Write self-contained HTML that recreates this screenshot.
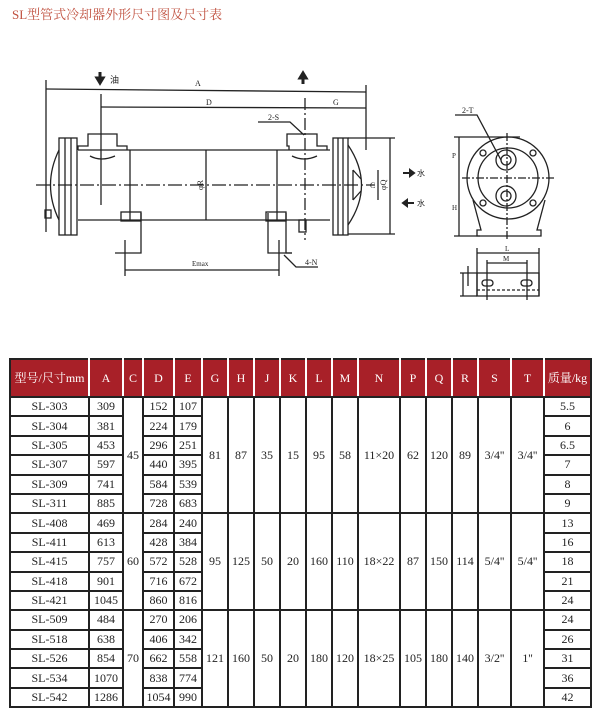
<!DOCTYPE html>
<html><head><meta charset="utf-8"><style>
body{margin:0;background:#fff;width:600px;height:721px;position:relative;overflow:hidden;font-family:"Liberation Serif","Noto Serif CJK SC",serif}
.t{position:absolute;left:12px;top:4px;color:#c0503f;font-size:13px}
svg{position:absolute;left:0;top:0}
table{position:absolute;left:9px;top:358px;border-collapse:collapse;table-layout:fixed;width:581px}
td,th{border:2px solid #222;padding:0;text-align:center;font-size:12px;color:#222;height:17.4px;line-height:15px;font-weight:normal}
th{background:#a82028;color:#fff;height:36px;border-color:#222 #fff;font-size:12px}
th:first-child{border-left-color:#222}th:last-child{border-right-color:#222}
</style></head><body>
<div class="t">SL型管式冷却器外形尺寸图及尺寸表</div>
<svg width="600" height="350" font-family="Liberation Serif,serif" font-size="8" fill="none" stroke="#222" stroke-width="1.3">
<line x1="46" y1="80" x2="46" y2="232"/><line x1="366" y1="85" x2="366" y2="150"/>
<line x1="46" y1="89" x2="366" y2="92"/>
<line x1="101" y1="94" x2="101" y2="205"/><line x1="305" y1="98" x2="305" y2="240" stroke-dasharray="12,3,2,3"/>
<line x1="101" y1="107" x2="366" y2="108"/>
<text x="195" y="86" fill="#222" stroke="none">A</text><text x="206" y="105" fill="#222" stroke="none">D</text><text x="333" y="105" fill="#222" stroke="none">G</text>
<text x="110" y="83" fill="#222" stroke="none" font-size="9">油</text>
<path d="M100 72v8M97 78l3 5 3-5z" stroke-width="3" fill="#222"/>
<path d="M303 84v-8M300 78l3-5 3 5z" stroke-width="3" fill="#222"/>
<text x="268" y="120" fill="#222" stroke="none">2-S</text><path d="M258 122h32l14 13"/>
<path d="M78 150H330M78 220H330"/>
<line x1="36" y1="185" x2="375" y2="185" stroke-dasharray="14,3,2,3"/>
<rect x="59" y="138" width="18" height="97"/><line x1="65" y1="138" x2="65" y2="235"/><line x1="71" y1="138" x2="71" y2="235"/>
<path d="M59 150Q42 185 59 220"/><rect x="45" y="210" width="6" height="8"/>
<rect x="333" y="138" width="15" height="97"/><line x1="338" y1="138" x2="338" y2="235"/><line x1="343" y1="138" x2="343" y2="235"/>
<path d="M348 145Q375 185 348 225"/><path d="M353 170l8 9M353 200l8-9M353 170v30"/>
<path d="M78 150v-4h10v-12h29v12h10v4M289 150v-4h-2v-12h30v12h10v4"/>
<path d="M90 156q11 6 25 0M292 156q12 6 25 0"/>
<line x1="130" y1="150" x2="130" y2="220"/><line x1="277" y1="150" x2="277" y2="220"/>
<rect x="121" y="212" width="20" height="9"/><rect x="266" y="212" width="20" height="9"/>
<path d="M141 213v40h-26M286 213v40h6"/><path d="M268 213v40h24"/>
<line x1="125" y1="240" x2="125" y2="276"/><line x1="279" y1="240" x2="279" y2="276"/>
<line x1="125" y1="270" x2="279" y2="270"/><text x="192" y="266" fill="#222" stroke="none" font-size="7">Emax</text>
<path d="M284 255l12 12h22"/><text x="305" y="265" fill="#222" stroke="none">4-N</text>
<rect x="299" y="220" width="7" height="12"/>
<line x1="206" y1="150" x2="206" y2="220"/><text x="197" y="190" fill="#222" stroke="none" transform="rotate(-90 200 187)">φR</text>
<line x1="348" y1="138" x2="395" y2="138"/><line x1="348" y1="234" x2="395" y2="234"/>
<line x1="390" y1="138" x2="390" y2="234"/><text x="380" y="190" fill="#222" stroke="none" transform="rotate(-90 383 187)">φQ</text>
<line x1="378" y1="170" x2="378" y2="200"/><text x="370" y="188" fill="#222" stroke="none">C</text>
<path d="M403 173h10M410 170l4 3-4 3z" stroke-width="2" fill="#222"/><text x="417" y="176" fill="#222" stroke="none">水</text>
<path d="M404 203h10M407 200l-4 3 4 3z" stroke-width="2" fill="#222"/><text x="417" y="206" fill="#222" stroke="none">水</text>
<circle cx="508" cy="178" r="41"/><circle cx="508" cy="178" r="30"/>
<circle cx="506" cy="160" r="10"/><circle cx="506" cy="160" r="5"/><circle cx="506" cy="196" r="10"/><circle cx="506" cy="196" r="5"/>
<circle cx="483" cy="153" r="3"/><circle cx="533" cy="153" r="3"/><circle cx="483" cy="203" r="3"/><circle cx="533" cy="203" r="3"/>
<line x1="462" y1="178" x2="555" y2="178" stroke-dasharray="8,2,2,2"/><line x1="507" y1="133" x2="507" y2="240" stroke-dasharray="8,2,2,2"/>
<path d="M473 200l8 30h-4v6h64v-6h-4l8-30"/>
<line x1="454" y1="137" x2="520" y2="137"/><line x1="454" y1="236" x2="480" y2="236"/><line x1="459" y1="137" x2="459" y2="236"/>
<text x="452" y="158" fill="#222" stroke="none" font-size="7">P</text><text x="452" y="210" fill="#222" stroke="none" font-size="7">H</text>
<text x="462" y="113" fill="#222" stroke="none">2-T</text><path d="M455 115h22l24 45"/>
<rect x="477" y="273" width="62" height="23"/><line x1="477" y1="290" x2="539" y2="290" stroke-dasharray="3,2"/>
<line x1="477" y1="248" x2="477" y2="296"/><line x1="539" y1="248" x2="539" y2="296"/><line x1="477" y1="253" x2="539" y2="253"/>
<line x1="487" y1="260" x2="487" y2="300"/><line x1="527" y1="260" x2="527" y2="300"/><line x1="487" y1="263" x2="527" y2="263"/>
<text x="505" y="251" fill="#222" stroke="none" font-size="7">L</text><text x="503" y="261" fill="#222" stroke="none" font-size="7">M</text>
<rect x="482" y="280" width="11" height="6" rx="3"/><rect x="521" y="280" width="11" height="6" rx="3"/>
<line x1="460" y1="273" x2="477" y2="273"/><line x1="460" y1="296" x2="477" y2="296"/><line x1="463" y1="273" x2="463" y2="296"/><line x1="468" y1="266" x2="468" y2="286"/>
</svg>
<table>
<colgroup><col style="width:79px"><col style="width:34px"><col style="width:20px"><col style="width:31px"><col style="width:28px"><col style="width:26px"><col style="width:26px"><col style="width:26px"><col style="width:26px"><col style="width:26px"><col style="width:26px"><col style="width:42px"><col style="width:26px"><col style="width:26px"><col style="width:26px"><col style="width:33px"><col style="width:33px"><col style="width:47px"></colgroup>
<tr><th>型号/尺寸mm</th><th>A</th><th>C</th><th>D</th><th>E</th><th>G</th><th>H</th><th>J</th><th>K</th><th>L</th><th>M</th><th>N</th><th>P</th><th>Q</th><th>R</th><th>S</th><th>T</th><th>质量/kg</th></tr>
<tr><td>SL-303</td><td>309</td><td rowspan="6">45</td><td>152</td><td>107</td><td rowspan="6">81</td><td rowspan="6">87</td><td rowspan="6">35</td><td rowspan="6">15</td><td rowspan="6">95</td><td rowspan="6">58</td><td rowspan="6">11×20</td><td rowspan="6">62</td><td rowspan="6">120</td><td rowspan="6">89</td><td rowspan="6">3/4''</td><td rowspan="6">3/4''</td><td>5.5</td></tr>
<tr><td>SL-304</td><td>381</td><td>224</td><td>179</td><td>6</td></tr>
<tr><td>SL-305</td><td>453</td><td>296</td><td>251</td><td>6.5</td></tr>
<tr><td>SL-307</td><td>597</td><td>440</td><td>395</td><td>7</td></tr>
<tr><td>SL-309</td><td>741</td><td>584</td><td>539</td><td>8</td></tr>
<tr><td>SL-311</td><td>885</td><td>728</td><td>683</td><td>9</td></tr>
<tr><td>SL-408</td><td>469</td><td rowspan="5">60</td><td>284</td><td>240</td><td rowspan="5">95</td><td rowspan="5">125</td><td rowspan="5">50</td><td rowspan="5">20</td><td rowspan="5">160</td><td rowspan="5">110</td><td rowspan="5">18×22</td><td rowspan="5">87</td><td rowspan="5">150</td><td rowspan="5">114</td><td rowspan="5">5/4''</td><td rowspan="5">5/4''</td><td>13</td></tr>
<tr><td>SL-411</td><td>613</td><td>428</td><td>384</td><td>16</td></tr>
<tr><td>SL-415</td><td>757</td><td>572</td><td>528</td><td>18</td></tr>
<tr><td>SL-418</td><td>901</td><td>716</td><td>672</td><td>21</td></tr>
<tr><td>SL-421</td><td>1045</td><td>860</td><td>816</td><td>24</td></tr>
<tr><td>SL-509</td><td>484</td><td rowspan="5">70</td><td>270</td><td>206</td><td rowspan="5">121</td><td rowspan="5">160</td><td rowspan="5">50</td><td rowspan="5">20</td><td rowspan="5">180</td><td rowspan="5">120</td><td rowspan="5">18×25</td><td rowspan="5">105</td><td rowspan="5">180</td><td rowspan="5">140</td><td rowspan="5">3/2''</td><td rowspan="5">1''</td><td>24</td></tr>
<tr><td>SL-518</td><td>638</td><td>406</td><td>342</td><td>26</td></tr>
<tr><td>SL-526</td><td>854</td><td>662</td><td>558</td><td>31</td></tr>
<tr><td>SL-534</td><td>1070</td><td>838</td><td>774</td><td>36</td></tr>
<tr><td>SL-542</td><td>1286</td><td>1054</td><td>990</td><td>42</td></tr>
</table>
</body></html>
